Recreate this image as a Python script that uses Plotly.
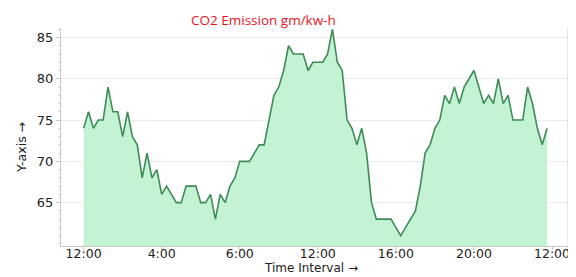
import plotly.graph_objects as go

# CO2 emission readings every 15 minutes over a day
co2 = [74, 76, 74, 75, 75, 79, 76, 76, 73, 76,
       73, 72, 68, 71, 68, 69, 66, 67, 66, 65,
       65, 67, 67, 67, 65, 65, 66, 63, 66, 65,
       67, 68, 70, 70, 70, 71, 72, 72, 75, 78,
       79, 81, 84, 83, 83, 83, 81, 82, 82, 82,
       83, 86, 82, 81, 75, 74, 72, 74, 71, 65,
       63, 63, 63, 63, 62, 61, 62, 63, 64, 67,
       71, 72, 74, 75, 78, 77, 79, 77, 79, 80,
       81, 79, 77, 78, 77, 80, 77, 78, 75, 75,
       75, 79, 77, 74, 72, 74]
step_hours = 0.25
hours = [i * step_hours for i in range(len(co2))]

tick_hours = [0, 4, 8, 12, 16, 20, 24]
tick_labels = ["12:00", "4:00", "6:00", "12:00", "16:00", "20:00", "12:00"]
y_ticks = [65, 70, 75, 80, 85]

title_text = "CO2 Emission gm/kw-h"
x_title = "Time Interval \u2192"
y_title = "Y-axis \u2192"

fig = go.Figure()
fig.add_trace(go.Scatter(
    x=hours, y=co2, mode="lines",
    line=dict(color="#3d8c55", width=1.6),
    fill="tozeroy", fillcolor="#c4f3d4",
    hoverinfo="x+y",
))

axis_font = dict(family="DejaVu Sans", size=13, color="#222222")
x_tick_font = dict(family="DejaVu Sans", size=12.5, color="#222222")

fig.update_layout(
    width=568, height=269,
    margin=dict(l=53, r=6, t=20, b=31),
    paper_bgcolor="white", plot_bgcolor="white",
    showlegend=False,
    xaxis=dict(
        range=[-1.16, 24.82],
        tickvals=tick_hours, ticktext=tick_labels,
        showgrid=False, zeroline=False,
        showline=True, linecolor="#c8c8c8", linewidth=1,
        ticks="outside", ticklen=3, tickcolor="#c8c8c8",
        ticklabelstandoff=-7,
        tickfont=x_tick_font, mirror=False,
    ),
    yaxis=dict(
        range=[59.75, 86.15],
        tickvals=y_ticks,
        showgrid=True, gridcolor="#ececec", zeroline=False,
        showline=True, linecolor="#c8c8c8", linewidth=1,
        ticks="outside", ticklen=4, tickcolor="#c8c8c8",
        minor=dict(dtick=1, ticks="outside", ticklen=2, tickcolor="#d0d0d0", showgrid=False),
        tickfont=axis_font,
    ),
    shapes=[dict(type="line", xref="paper", yref="paper", x0=1, x1=1, y0=0, y1=1,
                 line=dict(color="#d0d0d0", width=1))],
    annotations=[
        dict(text=title_text, xref="paper", yref="paper", x=0.40, y=1.037,
             showarrow=False, xanchor="center", yanchor="middle",
             font=dict(family="Open Sans", size=13.5, color="#e8141c")),
        dict(text=x_title, xref="paper", yref="paper", x=0.493, y=-0.1375,
             showarrow=False, xanchor="center", yanchor="bottom", borderpad=0,
             font=dict(family="DejaVu Sans", size=12, color="#222222")),
        dict(text=y_title, xref="paper", yref="paper", x=-0.0766, y=0.45,
             showarrow=False, xanchor="center", yanchor="middle", textangle=-90,
             font=dict(family="DejaVu Sans", size=12.5, color="#222222")),
    ],
)

fig.write_html("out.html")
